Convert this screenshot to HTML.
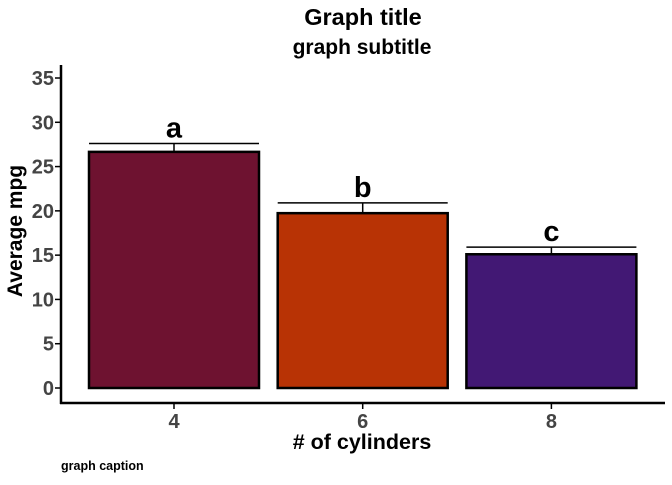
<!DOCTYPE html>
<html><head><meta charset="utf-8"><style>
body{margin:0;background:#fff;font-family:"Liberation Sans",sans-serif}
svg text{font-family:"Liberation Sans",sans-serif;font-weight:bold}
</style></head><body>
<svg id="chart" width="672" height="480" viewBox="0 0 672 480">
<text x="363" y="25" text-anchor="middle" font-size="23.5">Graph title</text>
<text x="362" y="54" text-anchor="middle" font-size="21">graph subtitle</text>
<g id="plot"></g>
<line x1="61" y1="65" x2="61" y2="404" stroke="#000" stroke-width="2.5"/>
<line x1="60" y1="403" x2="665" y2="403" stroke="#000" stroke-width="2.5"/>
<text transform="translate(22,231) rotate(-90)" text-anchor="middle" font-size="21">Average mpg</text>
<text x="362" y="449" text-anchor="middle" font-size="21.5"># of cylinders</text>
<text x="61" y="470" font-size="12.5">graph caption</text>
</svg>
<script>
const categories=["4","6","8"];
const means=[26.66,19.74,15.1];
const errTops=[27.6,20.9,15.9];
const groupLabels=["a","b","c"];
const fills=["#6e1230","#b83305","#421874"];
const yTicks=[0,5,10,15,20,25,30,35];
const NS="http://www.w3.org/2000/svg";
const g=document.getElementById("plot");
function y(v){return 388-v*8.857;}
function xc(i){return 174+i*188.7;}
const bw=170;
function el(t,a){const e=document.createElementNS(NS,t);for(const k in a)e.setAttribute(k,a[k]);g.appendChild(e);return e;}
yTicks.forEach(t=>{
 const l=el("line",{x1:55,x2:61,y1:y(t),y2:y(t),stroke:"#000","stroke-width":1.5});
 
 
 const tx=el("text",{x:54,y:y(t)+7,"text-anchor":"end","font-size":20,fill:"#444"});
 tx.textContent=t;
 
 
});
categories.forEach((c,i)=>{
 const x=xc(i);
 const r=el("rect",{x:x-bw/2,y:y(means[i]),width:bw,height:y(0)-y(means[i]),fill:fills[i],stroke:"#000","stroke-width":2.5});
 
 
 const v=el("line",{x1:x,x2:x,y1:y(means[i]),y2:y(errTops[i]),stroke:"#000","stroke-width":1.5});
 
 
 const h=el("line",{x1:x-bw/2,x2:x+bw/2,y1:y(errTops[i]),y2:y(errTops[i]),stroke:"#000","stroke-width":1.5});
 
 
 const lb=el("text",{x:x,y:y(errTops[i])-6,"text-anchor":"middle","font-size":29});
 lb.textContent=groupLabels[i];
 
 
 const tk=el("line",{x1:x,x2:x,y1:403,y2:409,stroke:"#000","stroke-width":1.5});
 
 
 const tl=el("text",{x:x,y:428,"text-anchor":"middle","font-size":20,fill:"#444"});
 tl.textContent=c;
 
 
});
</script>
</body></html>
